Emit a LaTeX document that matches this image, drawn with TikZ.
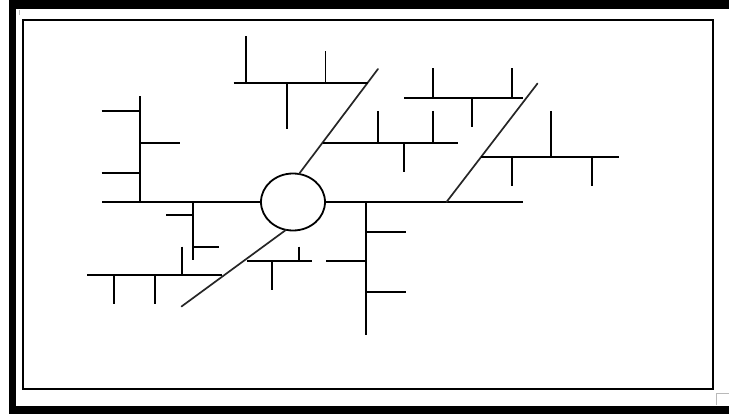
\documentclass[tikz,border=0pt]{standalone}
\usetikzlibrary{shapes.geometric}
\begin{document}
\begin{tikzpicture}[x=1pt,y=-1pt,
  bone/.style={line width=1.9pt, line cap=butt},
  diag/.style={line width=1.7pt, line cap=round, black!85},
  headshape/.style={ellipse, draw, line width=1.8pt, minimum width=64pt, minimum height=57pt, inner sep=0pt, outer sep=0pt}]
\useasboundingbox (0,0) rectangle (729,414);
% outer thick frame (open to the right)
\fill[black] (9,0.5) rectangle (729,9);
\fill[black] (9,0.5) rectangle (16,413.5);
\fill[black] (9,405.5) rectangle (729,413.5);
% inner frame
\draw[line width=1.9pt] (23,20) rectangle (713,389);
\draw[gray!55, line width=0.8pt] (716,405) -- (716,393.5) -- (729,393.5);
\draw[gray!55, line width=0.8pt] (19,10) -- (19,15);
% head
\node[headshape] (head) at (293,202) {};
% spines
\coordinate (lend) at (101.5,202);
\coordinate (rend) at (523,202);
\coordinate (rdbase) at (446.5,202);
\coordinate (rdtop) at (537.5,83.5);
\coordinate (uldtop) at (378,69);
\coordinate (lldend) at (181.5,306.5);
\draw[bone] (head.west) -- (lend);
\draw[bone] (head.east) -- (rend);
\draw[diag] (head.78) -- (uldtop);
\draw[diag] (head.-104) -- (lldend);
\draw[diag] (rdbase) -- (rdtop);
% left group
\draw[bone] (140.3,96.5) -- (140.3,202);
\draw[bone] (101.5,111) -- (140.3,111);
\draw[bone] (140.3,142.7) -- (180,142.7);
\draw[bone] (101.5,173.3) -- (140.3,173.3);
% left below spine
\draw[bone] (193.3,202) -- (193.3,260.5);
\draw[bone] (166,215) -- (193.3,215);
\draw[bone] (193.3,246.7) -- (219.3,246.7);
% top-left fish
\draw[bone] (233.5,82.7) -- (367.5,82.7);
\draw[bone] (245.7,36.5) -- (245.7,82.7);
\draw[bone] (325.5,51.5) -- (325.5,82.7);
\draw[bone] (286.7,82.7) -- (286.7,129);
% middle fish
\draw[bone] (322.5,142.7) -- (457.7,142.7);
\draw[bone] (378.3,111) -- (378.3,142.7);
\draw[bone] (433.3,111) -- (433.3,142.7);
\draw[bone] (404.3,142.7) -- (404.3,171.7);
% top-right fish
\draw[bone] (404.3,97.7) -- (523.3,97.7);
\draw[bone] (433.3,68.3) -- (433.3,97.7);
\draw[bone] (512.3,68.3) -- (512.3,97.7);
\draw[bone] (471.7,97.7) -- (471.7,126.7);
% right fish
\draw[bone] (481,156.7) -- (619,156.7);
\draw[bone] (550.7,111) -- (550.7,156.7);
\draw[bone] (512.3,156.7) -- (512.3,186);
\draw[bone] (591.7,156.7) -- (591.7,186);
% right spine bones
\draw[bone] (366,202) -- (366,335);
\draw[bone] (366,232.3) -- (405.7,232.3);
\draw[bone] (366,291.7) -- (405.7,291.7);
\draw[bone] (326,260.7) -- (366,260.7);
% lower-left fish
\draw[bone] (87.3,275) -- (222,275);
\draw[bone] (181.7,246.7) -- (181.7,275);
\draw[bone] (114,275) -- (114,304);
\draw[bone] (155,275) -- (155,304);
% lower middle fish
\draw[bone] (247,260.7) -- (311.7,260.7);
\draw[bone] (299,246.7) -- (299,260.7);
\draw[bone] (272.3,260.7) -- (272.3,290);
\end{tikzpicture}
\end{document}
